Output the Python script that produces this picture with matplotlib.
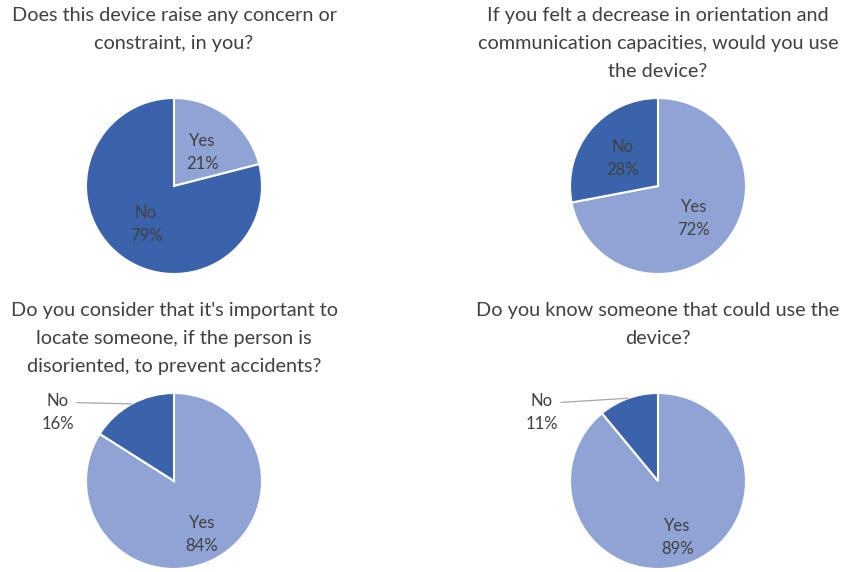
import matplotlib.pyplot as plt
import numpy as np

plt.rcParams['font.family'] = ['Lato', 'DejaVu Sans']

titles = [
    "Does this device raise any concern or\nconstraint, in you?",
    "If you felt a decrease in orientation and\ncommunication capacities, would you use\nthe device?",
    "Do you consider that it's important to\nlocate someone, if the person is\ndisoriented, to prevent accidents?",
    "Do you know someone that could use the\ndevice?",
]
categories = ["Yes", "No"]
yes_pct = [21, 72, 84, 89]
no_pct = [79, 28, 16, 11]

LIGHT = '#8FA4D5'
DARK = '#3A63AC'
TXT = '#404040'

W, H = 846, 572
fig = plt.figure(figsize=(W / 100, H / 100), dpi=100)

# pie centres in pixels, radius in pixels
centres = [(174, 186), (658, 186), (174, 481), (658, 481)]
R = 88
title_top = [7, 7, 302, 302]
label_dist = [0.52, 0.53, 0.66, 0.65]
outside_no = [False, False, True, True]

for i in range(4):
    cx, cy = centres[i]
    ax = fig.add_axes([(cx - R) / W, 1 - (cy + R) / H, 2 * R / W, 2 * R / H])
    vals = [yes_pct[i], no_pct[i]]
    wedges, _ = ax.pie(vals, colors=[LIGHT, DARK], startangle=90, counterclock=False,
                       wedgeprops=dict(edgecolor='white', linewidth=1.5))
    ax.set_xlim(-1.0, 1.0)
    ax.set_ylim(-1.0, 1.0)
    ax.set_aspect('equal')
    ax.axis('off')

    for j, w in enumerate(wedges):
        mid = np.deg2rad((w.theta1 + w.theta2) / 2)
        txt = f"{categories[j]}\n{vals[j]}%"
        if j == 1 and outside_no[i]:
            ex, ey = np.cos(mid), np.sin(mid)
            ax.annotate(txt, xy=(ex, ey), xytext=(-1.32, 0.78), ha='center', va='center',
                        fontsize=12, color=TXT, linespacing=1.55, annotation_clip=False,
                        arrowprops=dict(arrowstyle='-', color='#A6A6A6', lw=0.9,
                                        shrinkA=0, shrinkB=0,
                                        relpos=(1.0, 0.75)))
        else:
            d = label_dist[i]
            ax.text(d * np.cos(mid), d * np.sin(mid) - 0.03, txt, ha='center', va='center',
                    fontsize=12, color=TXT, linespacing=1.55)

    fig.text(cx / W, 1 - title_top[i] / H, titles[i], ha='center', va='top',
             fontsize=14.3, color=TXT, linespacing=1.8)

fig.savefig('out.png', dpi=100, facecolor='white')
